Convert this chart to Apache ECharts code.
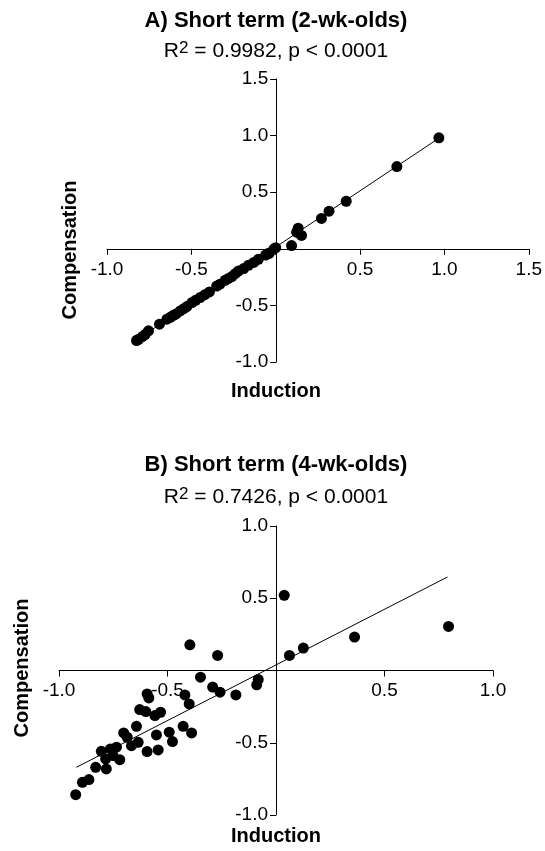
<!DOCTYPE html>
<html>
<head>
<meta charset="utf-8">
<script src="https://cdn.jsdelivr.net/npm/echarts@6/dist/echarts.min.js"></script>
<style>
  html, body { margin: 0; padding: 0; background: #fff; }
  #chart { width: 545px; height: 851px; }
</style>
</head>
<body>
<div id="chart"></div>
<script>
  // A) 2-wk-olds: [induction, compensation]
  var pointsA = [
    [0.967, 0.98], [0.718, 0.726], [0.418, 0.42], [0.316, 0.332], [0.271, 0.268],
    [0.133, 0.182], [0.124, 0.147], [0.153, 0.118], [0.094, 0.029], [-0.01, 0.0],
    [0.0, 0.01], [-0.037, -0.038], [-0.044, -0.042], [-0.06, -0.055], [-0.103, -0.093],
    [-0.13, -0.12], [-0.162, -0.146], [-0.19, -0.175], [-0.221, -0.196], [-0.24, -0.22],
    [-0.26, -0.245], [-0.28, -0.262], [-0.3, -0.278], [-0.33, -0.313], [-0.35, -0.329],
    [-0.393, -0.381], [-0.42, -0.405], [-0.448, -0.431], [-0.475, -0.455], [-0.497, -0.475],
    [-0.527, -0.51], [-0.545, -0.529], [-0.566, -0.549], [-0.59, -0.575], [-0.606, -0.587],
    [-0.625, -0.605], [-0.645, -0.622], [-0.689, -0.666], [-0.754, -0.725], [-0.773, -0.755],
    [-0.79, -0.775], [-0.813, -0.799], [-0.825, -0.81]
  ];
  var fitA = [[-0.82, -0.80], [0.97, 0.98]];

  // B) 4-wk-olds
  var pointsB = [
    [0.038, 0.52], [0.795, 0.305], [0.362, 0.231], [0.126, 0.155], [0.062, 0.104],
    [-0.397, 0.178], [-0.269, 0.104], [-0.348, -0.046], [-0.082, -0.062], [-0.089, -0.099],
    [-0.185, -0.169], [-0.292, -0.115], [-0.258, -0.15], [-0.42, -0.169], [-0.4, -0.231],
    [-0.594, -0.162], [-0.586, -0.19], [-0.628, -0.27], [-0.6, -0.284], [-0.558, -0.312],
    [-0.532, -0.289], [-0.643, -0.386], [-0.428, -0.386], [-0.389, -0.432], [-0.492, -0.427],
    [-0.477, -0.492], [-0.551, -0.446], [-0.702, -0.432], [-0.686, -0.462], [-0.666, -0.52],
    [-0.635, -0.497], [-0.594, -0.561], [-0.543, -0.55], [-0.735, -0.531], [-0.763, -0.543],
    [-0.805, -0.559], [-0.785, -0.612], [-0.72, -0.617], [-0.751, -0.589], [-0.831, -0.67],
    [-0.782, -0.681], [-0.862, -0.755], [-0.892, -0.774], [-0.923, -0.859]
  ];
  var fitB = [[-0.92, -0.67], [0.79, 0.647]];

  var titles = ['A) Short term (2-wk-olds)', 'B) Short term (4-wk-olds)'];
  var stats = ['0.9982', '0.7426'];
  var axisRangeA = [-1, 1.5];
  var axisRangeB = [-1, 1];

  var FONT = '"Liberation Sans", Arial, sans-serif';

  var gridA = { left: 107, top: 79, width: 423, height: 283 };
  var gridB = { left: 59, top: 526, width: 434, height: 289 };

  function tickFmt(v) {
    return v === 0 ? '' : v.toFixed(1);
  }

  // axes cross at zero: shift each axis inward from the grid edge to the other axis' zero
  function valueAxis(gridIndex, range, size, margin) {
    return {
      type: 'value',
      gridIndex: gridIndex,
      min: range[0],
      max: range[1],
      interval: 0.5,
      offset: -size * (0 - range[0]) / (range[1] - range[0]),
      splitLine: { show: false },
      axisLine: { onZero: false, lineStyle: { color: '#000', width: 1 } },
      axisTick: { length: 6, lineStyle: { color: '#000' } },
      axisLabel: { color: '#000', fontSize: 19, fontFamily: FONT, margin: margin, formatter: tickFmt }
    };
  }

  function titleText(text, x, y) {
    return {
      type: 'text', x: x, y: y,
      style: { text: text, fill: '#000', font: 'bold 22px ' + FONT, align: 'center', verticalAlign: 'middle' }
    };
  }
  function statText(val, x, y) {
    return {
      type: 'text', x: x, y: y,
      style: {
        text: 'R{sup|2} = ' + val + ', p < 0.0001',
        fill: '#000', fontSize: 21, fontFamily: FONT, align: 'center', verticalAlign: 'middle',
        rich: { sup: { fontSize: 17, fontFamily: FONT, verticalAlign: 'top', padding: [0, 0, 6, 0] } }
      }
    };
  }
  function axisName(text, x, y, rot) {
    return {
      type: 'text', x: x, y: y, rotation: rot,
      style: { text: text, fill: '#000', font: 'bold 20px ' + FONT, align: 'center', verticalAlign: 'middle' }
    };
  }

  var chart = echarts.init(document.getElementById('chart'));
  chart.setOption({
    animation: false,
    grid: [gridA, gridB],
    xAxis: [
      valueAxis(0, axisRangeA, gridA.height, 11),
      valueAxis(1, axisRangeB, gridB.height, 11)
    ],
    yAxis: [
      valueAxis(0, axisRangeA, gridA.width, 8),
      valueAxis(1, axisRangeB, gridB.width, 8)
    ],
    graphic: [
      titleText(titles[0], 276, 21),
      statText(stats[0], 276, 51),
      titleText(titles[1], 276, 465),
      statText(stats[1], 276, 497),
      axisName('Compensation', 70, 250, Math.PI / 2),
      axisName('Induction', 276, 391, 0),
      axisName('Compensation', 22, 668, Math.PI / 2),
      axisName('Induction', 276, 836, 0)
    ],
    series: [
      { type: 'line', xAxisIndex: 0, yAxisIndex: 0, data: fitA, symbol: 'none', silent: true,
        lineStyle: { color: '#000', width: 1 }, z: 1 },
      { type: 'scatter', xAxisIndex: 0, yAxisIndex: 0, data: pointsA, symbolSize: 11,
        itemStyle: { color: '#000', opacity: 1 }, z: 2 },
      { type: 'line', xAxisIndex: 1, yAxisIndex: 1, data: fitB, symbol: 'none', silent: true,
        lineStyle: { color: '#000', width: 1 }, z: 1 },
      { type: 'scatter', xAxisIndex: 1, yAxisIndex: 1, data: pointsB, symbolSize: 11,
        itemStyle: { color: '#000', opacity: 1 }, z: 2 }
    ]
  });
  window.addEventListener('resize', function () {
    chart.resize();
  });
</script>
</body>
</html>
